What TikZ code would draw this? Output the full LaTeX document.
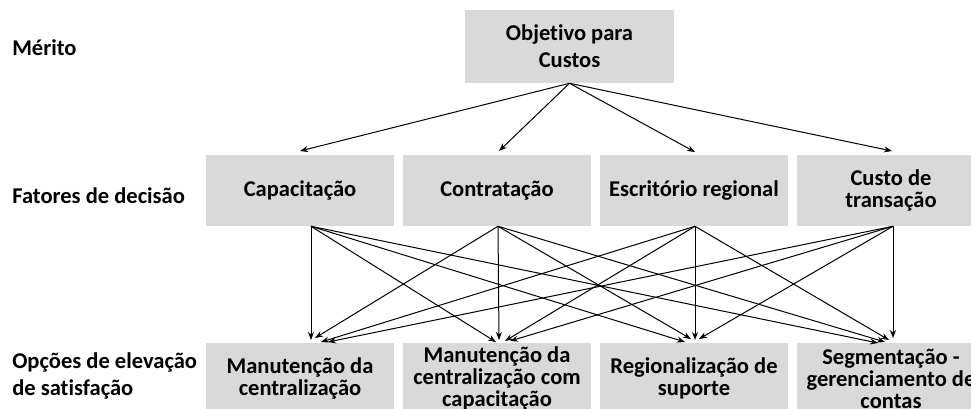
\documentclass[tikz,border=0pt]{standalone}
\usepackage{fontspec}
\setmainfont{Carlito}[Ligatures=NoCommon]
\usetikzlibrary{arrows.meta}
\definecolor{boxgray}{HTML}{D9D9D9}
\begin{document}
\begin{tikzpicture}[x=0.75pt,y=-0.75pt,
  every node/.style={font=\fontsize{16.9}{20.5}\selectfont\bfseries},
  box/.style={fill=boxgray, draw=none, inner sep=0pt, align=center,
    minimum width=141pt, minimum height=53.25pt,
    font=\fontsize{16.9}{16.5}\selectfont\bfseries},
  topbox/.style={box, minimum width=156.75pt, minimum height=54.75pt,
    font=\fontsize{16.9}{20.5}\selectfont\bfseries},
  lab/.style={anchor=west, align=left, inner sep=0pt},
  arr/.style={-{Stealth[length=6pt,width=4.5pt]}, line width=0.75pt, black}]
\useasboundingbox (0,0) rectangle (971,408);
\clip (0,0) rectangle (971,408);
\fill[white] (0,0) rectangle (971,408);

% labels
\node[lab] (l1) at (12,48) {Mérito};
\node[lab] (l2) at (12,195.5) {Fatores de decisão};
\node[lab] (l3) at (12,376) {Opções de elevação\\de satisfação};

% top
\node[topbox] (obj) at (569.5,46.5) {Objetivo para\\Custos};

% middle row
\node[box] (f1) at (300,190.5) {Capacitação};
\node[box] (f2) at (497,190.5) {Contratação};
\node[box] (f3) at (694,190.5) {Escritório regional};
\node[box] (f4) at (891,190.5) {Custo de\\transação};

% bottom row
\node[box] (o1) at (300,378.5) {Manutenção da\\centralização};
\node[box] (o2) at (497,378.5) {Manutenção da\\centralização com\\capacitação};
\node[box] (o3) at (694,378.5) {Regionalização de\\suporte};
\node[box] (o4) at (891,378.5) {Segmentação -\\gerenciamento de\\contas};

% top arrows targets
\coordinate (a1) at (300,151);
\coordinate (a2) at (499,151);
\coordinate (a3) at (695,152);
\coordinate (a4) at (892,151);
\foreach \i in {1,2,3,4} \draw[arr] (obj.south) -- (a\i);

% lower arrow targets t<target><source>
\coordinate (t11) at (311,340);
\coordinate (t12) at (315,338);
\coordinate (t13) at (321,342);
\coordinate (t14) at (328,342);
\coordinate (t21) at (496,342);
\coordinate (t22) at (499,340);
\coordinate (t23) at (505,341);
\coordinate (t24) at (510,341);
\coordinate (t31) at (685,342);
\coordinate (t32) at (691,339);
\coordinate (t33) at (695,340);
\coordinate (t34) at (699,339);
\coordinate (t41) at (878,343);
\coordinate (t42) at (885,342);
\coordinate (t43) at (889,340);
\coordinate (t44) at (893,338);

\foreach \j in {1,2,3,4}{
  \draw[arr] ([xshift=8.25pt]f1.south) -- (t\j1);
  \draw[arr] ([xshift=0.75pt]f2.south) -- (t\j2);
  \draw[arr] ([xshift=0.75pt]f3.south) -- (t\j3);
  \draw[arr] ([xshift=1.5pt]f4.south) -- (t\j4);
}
\end{tikzpicture}
\end{document}
